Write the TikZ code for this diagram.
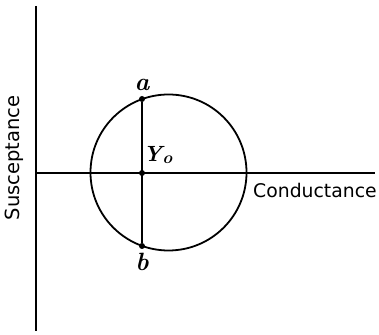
\documentclass[tikz,border=0pt]{standalone}
\usepackage{fontspec}
\newfontfamily\lblfont{DejaVu Sans}
\tikzset{
  axis/.style={line width=1.4pt},
  curve/.style={line width=1.8pt},
  dotpt/.style={circle,fill,inner sep=0pt,minimum size=6pt},
  axlabel/.style={font=\lblfont\fontsize{18.8}{18.8}\selectfont,inner sep=0pt},
  ptlabel/.style={font=\fontsize{25}{25}\selectfont\bfseries\itshape,inner sep=0pt}
}
\begin{document}
\begin{tikzpicture}[x=1pt,y=1pt]
\useasboundingbox (0,0) rectangle (379,334);
\coordinate (vtop) at (36,328);
\coordinate (vbot) at (36,3);
\coordinate (hend) at (375,161);
\coordinate (orig) at (36,161);
\draw[axis] (vtop) -- (vbot);
\draw[axis] (orig) -- (hend);
\coordinate (c) at (168.5,161.5);
\draw[curve] (c) circle[radius=78];
\node[dotpt] (a) at (142,235) {};
\node[dotpt] (y0) at (142,161) {};
\node[dotpt] (b) at (142,88) {};
\draw[axis] (a) -- (b);
\node[ptlabel] (la) at (142,249) {a};
\node[ptlabel] (lb) at (142,72) {b};
\node[ptlabel,anchor=base west,font=\fontsize{22}{22}\selectfont\bfseries\itshape] (ly) at (143,172) {Y\raisebox{-2pt}{\fontsize{17}{17}\selectfont o}};
\node[axlabel,anchor=west] (lc) at (253,144) {Conductance};
\node[axlabel,rotate=90,font=\lblfont\fontsize{19.5}{19.5}\selectfont] (ls) at (14,176) {Susceptance};
\end{tikzpicture}
\end{document}
